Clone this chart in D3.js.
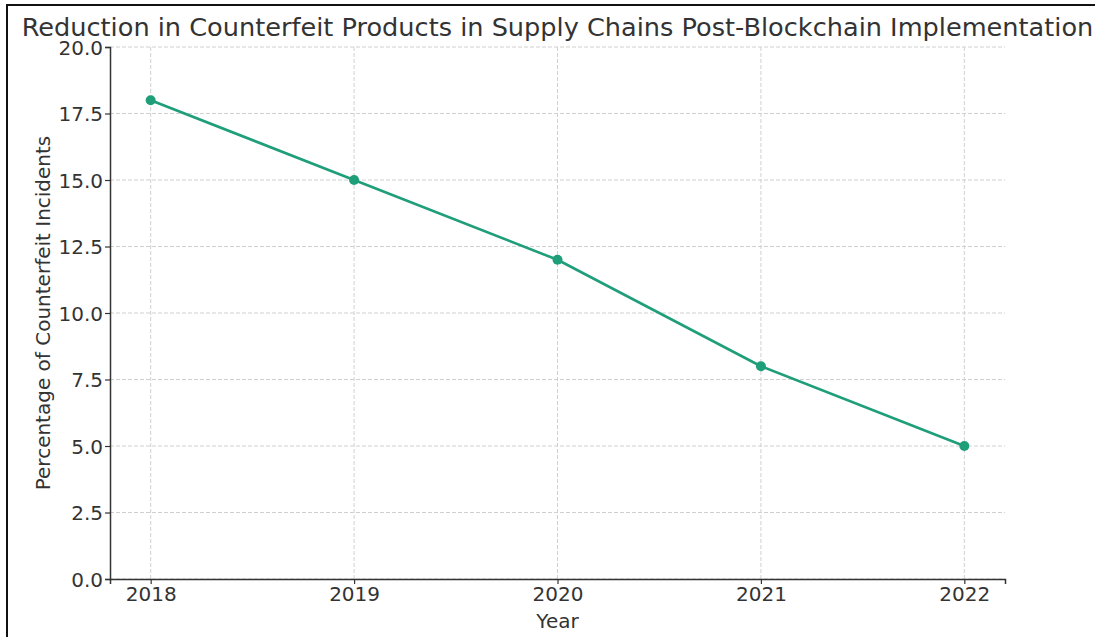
<!DOCTYPE html>
<html>
<head>
<meta charset="utf-8">
<script src="https://cdn.jsdelivr.net/npm/d3@7"></script>
<style>
  body { margin: 0; background: #fff; }
  svg { display: block; font-family: "DejaVu Sans", sans-serif; }
</style>
</head>
<body>
<svg id="chart" width="1097" height="637"></svg>
<script>
// data
const years = [2018, 2019, 2020, 2021, 2022];
const counterfeitPct = [18, 15, 12, 8, 5];
const yTicks = [0, 2.5, 5, 7.5, 10, 12.5, 15, 17.5, 20];

const title = "Reduction in Counterfeit Products in Supply Chains Post-Blockchain Implementation";
const xLabel = "Year";
const yLabel = "Percentage of Counterfeit Incidents";

const svg = d3.select("#chart");
const margin = {left: 110, right: 92, top: 47, bottom: 58};
const W = 1097, H = 637;

const x = d3.scaleLinear().domain([2017.8, 2022.2]).range([margin.left, W - margin.right]);
const y = d3.scaleLinear().domain([0, 20]).range([H - margin.bottom, margin.top]);

// frame round the picture (only top & left show)
svg.append("path")
  .attr("d", `M7,${H} L7,5 L${W - 2},5`)
  .attr("fill", "none").attr("stroke", "#111").attr("stroke-width", 2);

// grid
const grid = svg.append("g").attr("stroke", "#d0d0d0").attr("stroke-width", 1).attr("stroke-dasharray", "4,2");
grid.selectAll("line.h").data(yTicks).join("line")
  .attr("x1", x.range()[0]).attr("x2", x.range()[1])
  .attr("y1", d => y(d)).attr("y2", d => y(d));
grid.selectAll("line.v").data(years).join("line")
  .attr("x1", d => x(d)).attr("x2", d => x(d))
  .attr("y1", y.range()[0]).attr("y2", y.range()[1]);

// axes
const xAxis = svg.append("g")
  .attr("transform", `translate(0,${y(0)})`)
  .call(d3.axisBottom(x).tickValues(years).tickFormat(d3.format("d")).tickSizeOuter(0).tickSize(5));
const yAxis = svg.append("g")
  .attr("transform", `translate(${x.range()[0]},0)`)
  .call(d3.axisLeft(y).tickValues(yTicks).tickFormat(d3.format(".1f")).tickSizeOuter(0).tickSize(5));

[xAxis, yAxis].forEach(a => {
  a.attr("font-size", null).attr("font-family", null);
  a.select(".domain").attr("stroke", "#333").attr("stroke-width", 1.5);
  a.selectAll(".tick line").attr("stroke", "#333").attr("stroke-width", 1.2);
  a.selectAll(".tick text").attr("fill", "#333").style("font-size", "20px");
});
xAxis.selectAll(".tick text").attr("dy", null).attr("y", 22);
yAxis.selectAll(".tick text").attr("x", -7).attr("dy", "0.35em");

// line + markers
const pts = years.map((yr, i) => [yr, counterfeitPct[i]]);
svg.append("path")
  .datum(pts)
  .attr("fill", "none")
  .attr("stroke", "#1f9e7a")
  .attr("stroke-width", 2.6)
  .attr("d", d3.line().x(d => x(d[0])).y(d => y(d[1])));
svg.selectAll("circle.pt").data(pts).join("circle")
  .attr("cx", d => x(d[0])).attr("cy", d => y(d[1])).attr("r", 5)
  .attr("fill", "#1f9e7a");

// texts
svg.append("text")
  .attr("x", (x.range()[0] + x.range()[1]) / 2).attr("y", 36)
  .attr("text-anchor", "middle").attr("fill", "#333")
  .style("font-size", "25.6px")
  .text(title);
svg.append("text")
  .attr("x", (x.range()[0] + x.range()[1]) / 2).attr("y", 628)
  .attr("text-anchor", "middle").attr("fill", "#333")
  .style("font-size", "20px")
  .text(xLabel);
svg.append("text")
  .attr("transform", `translate(50,${(y.range()[0] + y.range()[1]) / 2}) rotate(-90)`)
  .attr("text-anchor", "middle").attr("fill", "#333")
  .style("font-size", "20px")
  .text(yLabel);
</script>
</body>
</html>
